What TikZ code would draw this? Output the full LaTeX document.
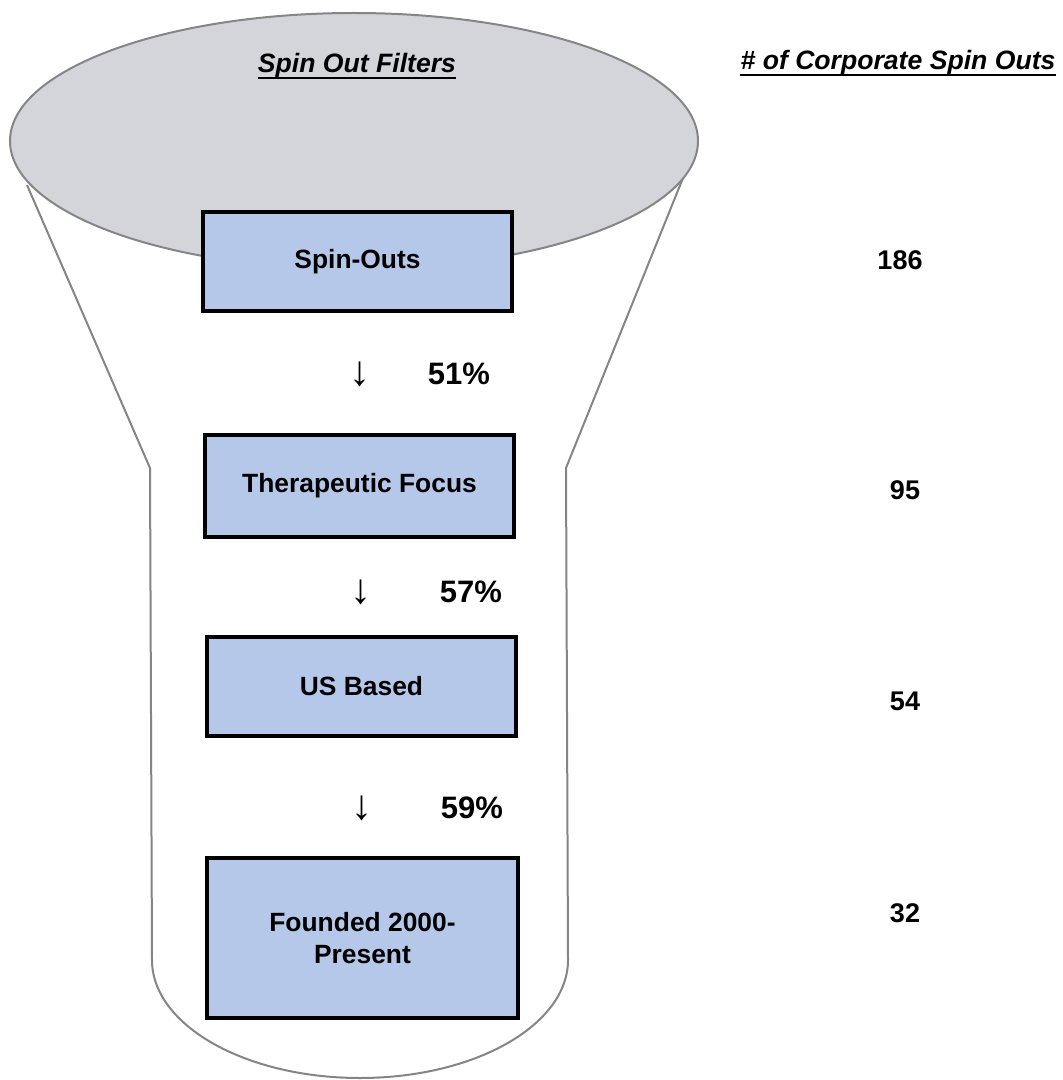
\documentclass[tikz,border=0pt]{standalone}
\usepackage{fontspec}
\setmainfont{Liberation Sans}
\definecolor{linegray}{HTML}{858585}
\definecolor{capgray}{HTML}{D3D5DB}
\definecolor{boxblue}{HTML}{B6C8EA}
\begin{document}
\begin{tikzpicture}[x=0.5pt,y=-0.5pt,
  outline/.style={draw=linegray, line width=1pt},
  filterbox/.style={draw=black, line width=1.6pt, fill=boxblue, minimum width=154.5pt,
    minimum height=50pt, inner sep=0pt, align=center,
    font=\fontsize{13.2}{15.8}\selectfont\bfseries},
  pct/.style={inner sep=0pt, font=\fontsize{15.5}{18}\selectfont\bfseries},
  arr/.style={inner sep=0pt, font=\fontsize{21}{24}\selectfont},
  count/.style={inner sep=0pt, font=\fontsize{13.5}{16}\selectfont\bfseries},
  heading/.style={inner sep=0pt, font=\fontsize{13.3}{16}\selectfont\bfseries\itshape},
  uline/.style={line width=0.9pt, black}]
\useasboundingbox (0,0) rectangle (1063,1080);
% funnel body
\draw[outline, fill=white] (27,185) -- (150,468) -- (152,960)
  .. controls (152,1025) and (245,1078) .. (360,1078)
  .. controls (475,1078) and (568,1025) .. (568,960) -- (566,468) -- (683,178);
% top ellipse
\draw[outline, fill=capgray] (354,141) ellipse [x radius=344, y radius=128];
% headings
\node[heading] (h1) at (357,66) {Spin Out Filters};
\draw[uline] ([yshift=-2.6pt]h1.base west) -- ([yshift=-2.6pt]h1.base east);
\node[heading] (h2) at (898,63) {\# of Corporate Spin Outs};
\draw[uline] ([yshift=-2.6pt]h2.base west) -- ([yshift=-2.6pt]h2.base east);
% filter boxes
\node[filterbox, minimum width=154.5pt, minimum height=49.5pt] (b1) at (357.5,261.5) {Spin-Outs};
\node[filterbox, minimum width=154.5pt, minimum height=51pt] (b2) at (359.5,486) {Therapeutic Focus};
\node[filterbox, minimum width=154.5pt, minimum height=49.5pt] (b3) at (361.5,686.5) {US Based};
\node[filterbox, minimum width=155.5pt, minimum height=80pt] (b4) at (362.5,938) {Founded 2000-\\Present};
% arrows and percentages
\node[arr] (a1) at (360,374) {↓};
\node[pct] (p1) at (459,374) {51\%};
\node[arr] (a2) at (361,592) {↓};
\node[pct] (p2) at (471,592) {57\%};
\node[arr] (a3) at (362,808) {↓};
\node[pct] (p3) at (472,808) {59\%};
% counts
\node[count] (c1) at (900,260) {186};
\node[count] (c2) at (905,490) {95};
\node[count] (c3) at (905,701) {54};
\node[count] (c4) at (905,913) {32};
\end{tikzpicture}
\end{document}
